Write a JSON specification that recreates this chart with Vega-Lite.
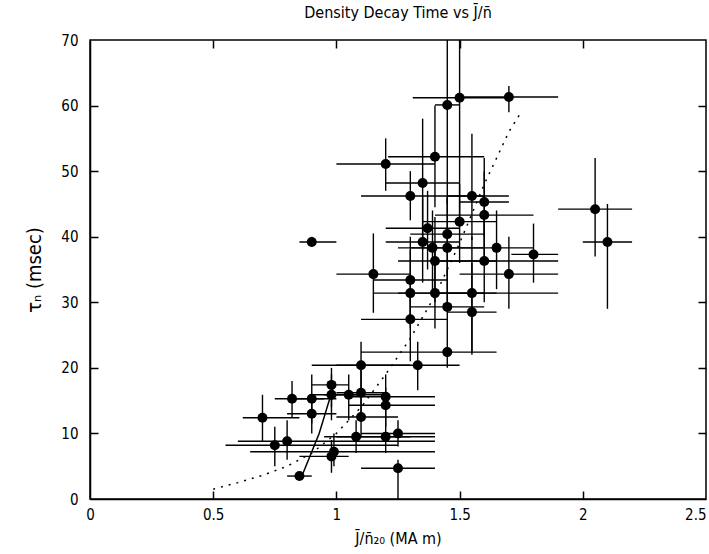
{
  "$schema": "https://vega.github.io/schema/vega-lite/v6.json",
  "autosize": "none",
  "width": 616,
  "height": 459,
  "padding": {"left": 90, "top": 40, "right": 3, "bottom": 55},
  "background": "white",
  "config": {
    "font": "DejaVu Sans",
    "view": {"stroke": "black", "strokeWidth": 1.5},
    "axis": {"domainColor": "black", "domainWidth": 1.5, "tickColor": "black", "tickWidth": 1.5, "labelColor": "black", "titleColor": "black", "grid": false, "labelFont": "DejaVu Sans Condensed, DejaVu Sans", "titleFont": "DejaVu Sans Condensed, DejaVu Sans", "titleFontWeight": "normal", "labelFlush": false, "labelOverlap": false}
  },
  "title": {"text": "Density Decay Time vs J̄/n̄", "fontSize": 16, "fontWeight": "normal", "color": "black", "offset": 12, "font": "DejaVu Sans Condensed, DejaVu Sans"},
  "datasets": {
    "pts": [
      {"x": 1.45, "y": 60.1, "xlo": 1.40, "xhi": 1.50, "ylo": 45, "yhi": 72},
      {"x": 1.50, "y": 61.2, "xlo": 1.31, "xhi": 1.70, "ylo": 42, "yhi": 72},
      {"x": 1.70, "y": 61.3, "xlo": 1.50, "xhi": 1.90, "ylo": 59, "yhi": 63},
      {"x": 1.40, "y": 52.2, "xlo": 1.21, "xhi": 1.60, "ylo": 44.5, "yhi": 60},
      {"x": 1.20, "y": 51.1, "xlo": 1.00, "xhi": 1.40, "ylo": 47, "yhi": 55},
      {"x": 1.35, "y": 48.2, "xlo": 1.20, "xhi": 1.50, "ylo": 38, "yhi": 58},
      {"x": 1.30, "y": 46.2, "xlo": 1.10, "xhi": 1.70, "ylo": 42.5, "yhi": 50},
      {"x": 1.55, "y": 46.2, "xlo": 1.45, "xhi": 1.60, "ylo": 39.5, "yhi": 55.7},
      {"x": 1.60, "y": 45.3, "xlo": 1.50, "xhi": 1.70, "ylo": 40, "yhi": 52},
      {"x": 1.60, "y": 43.3, "xlo": 1.40, "xhi": 1.80, "ylo": 37, "yhi": 50},
      {"x": 1.50, "y": 42.3, "xlo": 1.35, "xhi": 1.65, "ylo": 36, "yhi": 48},
      {"x": 1.45, "y": 40.4, "xlo": 1.30, "xhi": 1.60, "ylo": 34, "yhi": 46},
      {"x": 1.37, "y": 41.3, "xlo": 1.20, "xhi": 1.50, "ylo": 35, "yhi": 47},
      {"x": 2.05, "y": 44.2, "xlo": 1.90, "xhi": 2.20, "ylo": 37, "yhi": 52},
      {"x": 2.10, "y": 39.2, "xlo": 2.00, "xhi": 2.20, "ylo": 29, "yhi": 45},
      {"x": 0.90, "y": 39.2, "xlo": 0.85, "xhi": 1.00, "ylo": 38.5, "yhi": 40},
      {"x": 1.35, "y": 39.2, "xlo": 1.20, "xhi": 1.50, "ylo": 33, "yhi": 46},
      {"x": 1.39, "y": 38.3, "xlo": 1.25, "xhi": 1.55, "ylo": 32, "yhi": 44},
      {"x": 1.45, "y": 38.3, "xlo": 1.30, "xhi": 1.60, "ylo": 30, "yhi": 46},
      {"x": 1.40, "y": 36.3, "xlo": 1.25, "xhi": 1.65, "ylo": 30, "yhi": 43},
      {"x": 1.65, "y": 38.3, "xlo": 1.55, "xhi": 1.80, "ylo": 32, "yhi": 44},
      {"x": 1.60, "y": 36.3, "xlo": 1.40, "xhi": 1.90, "ylo": 30, "yhi": 44},
      {"x": 1.80, "y": 37.3, "xlo": 1.71, "xhi": 1.90, "ylo": 33, "yhi": 42},
      {"x": 1.70, "y": 34.3, "xlo": 1.50, "xhi": 1.90, "ylo": 29, "yhi": 40},
      {"x": 1.15, "y": 34.3, "xlo": 1.00, "xhi": 1.30, "ylo": 28.4, "yhi": 40.5},
      {"x": 1.30, "y": 33.4, "xlo": 1.15, "xhi": 1.45, "ylo": 28, "yhi": 40},
      {"x": 1.30, "y": 31.4, "xlo": 1.15, "xhi": 1.60, "ylo": 26, "yhi": 38},
      {"x": 1.40, "y": 31.4, "xlo": 1.25, "xhi": 1.65, "ylo": 26, "yhi": 38},
      {"x": 1.55, "y": 31.4, "xlo": 1.40, "xhi": 1.90, "ylo": 22.5, "yhi": 40},
      {"x": 1.45, "y": 29.3, "xlo": 1.30, "xhi": 1.60, "ylo": 25, "yhi": 35},
      {"x": 1.55, "y": 28.5, "xlo": 1.45, "xhi": 1.65, "ylo": 22, "yhi": 36},
      {"x": 1.30, "y": 27.4, "xlo": 1.10, "xhi": 1.45, "ylo": 21, "yhi": 32},
      {"x": 1.45, "y": 22.4, "xlo": 1.10, "xhi": 1.65, "ylo": 20, "yhi": 25},
      {"x": 1.33, "y": 20.4, "xlo": 0.90, "xhi": 1.50, "ylo": 16.6, "yhi": 24},
      {"x": 1.10, "y": 20.4, "xlo": 1.00, "xhi": 1.30, "ylo": 16.6, "yhi": 24},
      {"x": 0.98, "y": 17.4, "xlo": 0.90, "xhi": 1.05, "ylo": 14, "yhi": 20},
      {"x": 0.82, "y": 15.3, "xlo": 0.75, "xhi": 0.95, "ylo": 12.5, "yhi": 18},
      {"x": 0.90, "y": 15.3, "xlo": 0.80, "xhi": 1.00, "ylo": 11.5, "yhi": 19},
      {"x": 0.98, "y": 15.9, "xlo": 0.90, "xhi": 1.10, "ylo": 12, "yhi": 19},
      {"x": 1.05, "y": 15.9, "xlo": 0.95, "xhi": 1.20, "ylo": 12, "yhi": 19},
      {"x": 1.10, "y": 16.2, "xlo": 1.00, "xhi": 1.20, "ylo": 13, "yhi": 21},
      {"x": 1.20, "y": 15.6, "xlo": 1.05, "xhi": 1.40, "ylo": 12, "yhi": 19},
      {"x": 1.20, "y": 14.3, "xlo": 1.05, "xhi": 1.40, "ylo": 11, "yhi": 17},
      {"x": 0.90, "y": 13.0, "xlo": 0.80, "xhi": 1.00, "ylo": 10, "yhi": 16},
      {"x": 1.10, "y": 12.5, "xlo": 1.00, "xhi": 1.25, "ylo": 9.5, "yhi": 16},
      {"x": 0.70, "y": 12.4, "xlo": 0.62, "xhi": 0.85, "ylo": 8.7, "yhi": 15.9},
      {"x": 0.75, "y": 8.2, "xlo": 0.55, "xhi": 1.25, "ylo": 5, "yhi": 11},
      {"x": 0.80, "y": 8.8, "xlo": 0.60, "xhi": 1.40, "ylo": 6, "yhi": 12},
      {"x": 1.08, "y": 9.5, "xlo": 0.95, "xhi": 1.30, "ylo": 7, "yhi": 12},
      {"x": 1.20, "y": 9.5, "xlo": 1.00, "xhi": 1.40, "ylo": 7, "yhi": 12},
      {"x": 1.25, "y": 10.0, "xlo": 1.10, "xhi": 1.40, "ylo": 8, "yhi": 12},
      {"x": 0.99, "y": 7.2, "xlo": 0.65, "xhi": 1.40, "ylo": 5, "yhi": 10},
      {"x": 0.98, "y": 6.5, "xlo": 0.85, "xhi": 1.05, "ylo": 4, "yhi": 9},
      {"x": 1.25, "y": 4.7, "xlo": 1.10, "xhi": 1.40, "ylo": 0, "yhi": 6},
      {"x": 0.85, "y": 3.5, "xlo": 0.80, "xhi": 0.90, "ylo": 3, "yhi": 4}
    ],
    "curve": [
      {"x": 0.5, "y": 1.5}, {"x": 0.6, "y": 2.5}, {"x": 0.7, "y": 3.6}, {"x": 0.8, "y": 5.0},
      {"x": 0.9, "y": 7.0}, {"x": 1.0, "y": 10.0}, {"x": 1.1, "y": 14.0}, {"x": 1.2, "y": 19.0},
      {"x": 1.3, "y": 24.5}, {"x": 1.4, "y": 31.0}, {"x": 1.5, "y": 39.0}, {"x": 1.6, "y": 48.0},
      {"x": 1.7, "y": 56.0}, {"x": 1.75, "y": 59.0}
    ],
    "solid": [
      {"x": 0.86, "y": 3.5}, {"x": 0.93, "y": 10.0}, {"x": 0.99, "y": 17.4}
    ]
  },
  "layer": [
    {
      "data": {"name": "pts"},
      "mark": {"type": "rule", "color": "black", "strokeWidth": 1.4, "clip": true},
      "encoding": {
        "x": {"field": "xlo", "type": "quantitative", "scale": {"domain": [0, 2.5], "nice": false, "zero": false},
              "axis": {"orient": "top", "labels": false, "title": null, "values": [0.5, 1, 1.5, 2], "tickSize": 8, "offset": -8, "domain": false}},
        "x2": {"field": "xhi"},
        "y": {"field": "y", "type": "quantitative", "scale": {"domain": [0, 70], "nice": false, "zero": false},
              "axis": {"orient": "left", "labels": false, "title": null, "values": [10, 20, 30, 40, 50, 60], "tickSize": 8, "offset": -8, "domain": false}}
      }
    },
    {
      "data": {"name": "pts"},
      "mark": {"type": "rule", "color": "black", "strokeWidth": 1.4, "clip": true},
      "encoding": {
        "x": {"field": "x", "type": "quantitative",
              "axis": {"orient": "bottom", "labels": false, "title": null, "values": [0.5, 1, 1.5, 2], "tickSize": 8, "offset": -8, "domain": false}},
        "y": {"field": "ylo", "type": "quantitative",
              "axis": {"orient": "right", "labels": false, "title": null, "values": [10, 20, 30, 40, 50, 60], "tickSize": 8, "offset": -8, "domain": false}},
        "y2": {"field": "yhi"}
      }
    },
    {
      "data": {"name": "curve"},
      "mark": {"type": "line", "color": "black", "strokeWidth": 1.5, "strokeDash": [2, 6], "clip": true},
      "encoding": {
        "x": {"field": "x", "type": "quantitative", "axis": null},
        "y": {"field": "y", "type": "quantitative", "axis": null}
      }
    },
    {
      "data": {"name": "solid"},
      "mark": {"type": "line", "color": "black", "strokeWidth": 1.5, "clip": true},
      "encoding": {
        "x": {"field": "x", "type": "quantitative", "axis": null},
        "y": {"field": "y", "type": "quantitative", "axis": null}
      }
    },
    {
      "data": {"name": "pts"},
      "mark": {"type": "circle", "color": "black", "opacity": 1, "size": 100, "clip": true},
      "encoding": {
        "x": {"field": "x", "type": "quantitative",
              "axis": {"orient": "bottom", "values": [0, 0.5, 1, 1.5, 2, 2.5], "format": "~g", "ticks": false, "labelPadding": 8, "labelFontSize": 15,
                       "labelAlign": {"condition": {"test": "datum.value >= 2.5", "value": "right"}, "value": "center"},
                       "title": "J̄/n̄₂₀ (MA m)", "titleFontSize": 16, "titlePadding": 8}},
        "y": {"field": "y", "type": "quantitative",
              "axis": {"orient": "left", "values": [0, 10, 20, 30, 40, 50, 60, 70], "ticks": false, "labelPadding": 12, "labelFontSize": 15, "title": "τₙ (msec)", "titleFontSize": 20, "titlePadding": 16}}
      }
    }
  ],
  "resolve": {"axis": {"x": "independent", "y": "independent"}}
}
